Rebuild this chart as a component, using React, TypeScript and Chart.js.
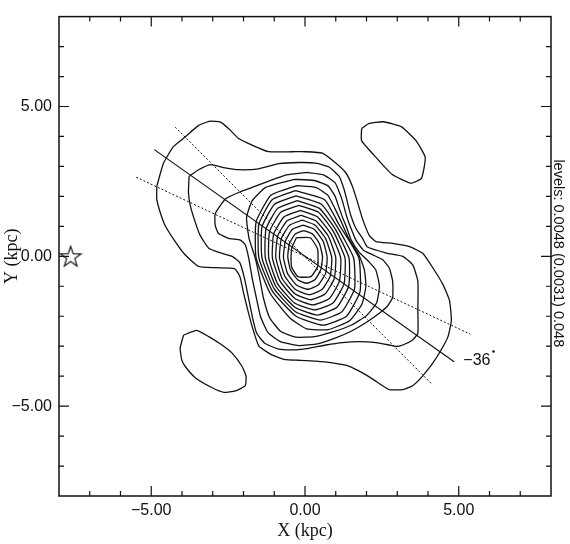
import React, { useEffect, useRef } from 'react';
import { Chart, registerables } from 'chart.js';

Chart.register(...registerables);

type P = [number, number];

// ---- axis setup ----
const AXIS_MIN = -8;
const AXIS_MAX = 8;
const TICK_LABELS = [-5, 0, 5];
const TICK_VALUES = [-7, -6, -5, -4, -3, -2, -1, 0, 1, 2, 3, 4, 5, 6, 7];
const X_TITLE = 'X (kpc)';
const Y_TITLE = 'Y (kpc)';
const LEVELS_TEXT = 'levels: 0.0048 (0.0031) 0.048';
const ANGLE_LABEL = '\u221236';
const ANGLE_LABEL_POS: P = [5.15, -3.48];

// ---- contours (outer to inner), kpc ----
const CONTOUR_1: P[] = [
  [-4.82, 2.34], [-4.6, 3.11], [-4.28, 3.66], [-3.9, 3.98], [-3.46, 4.37], [-3.08, 4.51], [-2.75, 4.48],
  [-2.48, 4.26], [-2.16, 3.93], [-1.72, 3.71], [-1.18, 3.49], [-0.41, 3.49], [0.02, 3.49], [0.56, 3.44],
  [1.0, 3.11], [1.33, 2.78], [1.54, 2.34], [1.71, 1.8], [1.87, 1.25], [2.09, 0.7], [2.31, 0.49], [2.85, 0.43],
  [3.4, 0.32], [3.83, 0.1], [4.16, -0.39], [4.48, -0.93], [4.7, -1.48], [4.76, -2.14], [4.65, -2.68],
  [4.43, -3.12], [4.16, -3.56], [3.83, -3.99], [3.5, -4.32], [3.18, -4.45], [2.74, -4.45], [2.52, -4.32],
  [2.2, -4.1], [1.87, -3.89], [1.44, -3.67], [0.89, -3.56], [0.35, -3.5], [-0.2, -3.47], [-0.63, -3.45],
  [-0.96, -3.34], [-1.18, -3.23], [-1.5, -3.0], [-1.67, -2.51], [-1.83, -1.92], [-1.99, -1.26], [-2.12, -0.67],
  [-2.29, -0.41], [-2.9, -0.38], [-3.46, -0.34], [-3.9, 0.05], [-4.22, 0.49], [-4.55, 1.03], [-4.71, 1.47],
  [-4.82, 1.91],
];
const CONTOUR_2: P[] = [
  [-3.77, 2.67], [-3.46, 2.89], [-3.08, 3.06], [-2.6, 2.95], [-2.16, 2.89], [-1.5, 2.92], [-0.85, 3.09],
  [-0.2, 3.13], [0.35, 3.11], [0.78, 2.98], [1.11, 2.67], [1.27, 2.24], [1.38, 1.8], [1.49, 1.36], [1.66, 0.92],
  [1.87, 0.6], [2.03, 0.31], [2.65, 0.11], [3.18, 0.0], [3.5, -0.28], [3.67, -0.83], [3.67, -1.81], [3.67, -2.57],
  [3.5, -2.79], [3.18, -2.96], [2.96, -3.01], [2.74, -2.96], [2.31, -2.88], [1.76, -2.85], [1.22, -2.88],
  [0.68, -2.96], [0.13, -3.07], [-0.3, -3.12], [-0.85, -3.1], [-1.31, -2.9], [-1.57, -2.57], [-1.7, -2.08],
  [-1.83, -1.43], [-1.96, -0.77], [-2.12, -0.21], [-2.37, 0.0], [-2.7, 0.1], [-3.13, 0.27], [-3.41, 0.7],
  [-3.57, 1.14], [-3.73, 1.69], [-3.79, 2.13],
];
const CONTOUR_3: P[] = [
  [0.06, 2.8], [0.6, 2.72], [0.98, 2.45], [1.15, 2.05], [1.23, 1.8], [1.35, 1.35], [1.47, 1.0], [1.65, 0.55],
  [1.9, 0.2], [2.2, 0.05], [2.52, -0.11], [2.74, -0.39], [2.85, -0.83], [2.85, -1.37], [2.69, -1.65],
  [2.47, -1.86], [2.0, -2.2], [1.5, -2.5], [1.0, -2.72], [0.4, -2.92], [-0.2, -2.98], [-0.8, -2.85],
  [-1.2, -2.55], [-1.45, -2.0], [-1.6, -1.3], [-1.72, -0.72], [-1.83, -0.06], [-1.94, 0.38], [-2.1, 0.54],
  [-2.48, 0.6], [-2.81, 0.76], [-2.92, 1.03], [-2.92, 1.42], [-2.59, 1.91], [-2.16, 2.13], [-1.61, 2.34],
  [-1.18, 2.51], [-0.6, 2.72],
];
const CONTOUR_4: P[] = [
  [-0.35, 2.57], [0.3, 2.53], [0.75, 2.35], [0.98, 2.0], [1.08, 1.7], [1.22, 1.3], [1.34, 1.0], [1.5, 0.55],
  [1.75, 0.15], [2.05, -0.15], [2.3, -0.45], [2.42, -1.0], [2.33, -1.55], [2.0, -1.98], [1.5, -2.3],
  [0.9, -2.52], [0.3, -2.68], [-0.3, -2.7], [-0.8, -2.5], [-1.15, -2.05], [-1.35, -1.4], [-1.48, -0.7],
  [-1.62, -0.05], [-1.82, 0.6], [-1.9, 1.3], [-1.72, 1.85], [-1.28, 2.3],
];
const CONTOUR_5: P[] = [
  [-0.27, 2.36], [0.35, 2.3], [0.74, 2.04], [0.97, 1.6], [1.18, 1.15], [1.42, 0.6], [1.75, 0.05], [1.93, -0.45],
  [1.98, -1.0], [1.85, -1.6], [1.45, -2.15], [0.75, -2.45], [0.05, -2.42], [-0.5, -2.05], [-1.12, -1.26],
  [-1.59, -0.05], [-1.59, 1.15], [-1.11, 2.04],
];
const CONTOUR_6: P[] = [
  [-0.31, 2.19], [0.64, 1.89], [1.1, 1.07], [1.75, -0.05], [1.79, -1.18], [1.35, -2.0], [0.59, -2.3],
  [-0.29, -2.0], [-1.05, -1.18], [-1.5, -0.05], [-1.5, 1.07], [-1.07, 1.89],
];
const CONTOUR_7: P[] = [
  [-0.29, 2.02], [0.53, 1.74], [1.05, 0.98], [1.58, -0.05], [1.61, -1.09], [1.2, -1.85], [0.5, -2.13],
  [-0.31, -1.85], [-1.0, -1.09], [-1.4, -0.05], [-1.4, 0.98], [-0.99, 1.74],
];
const CONTOUR_8: P[] = [
  [-0.25, 1.86], [0.47, 1.6], [0.99, 0.9], [1.43, -0.05], [1.42, -1.0], [1.04, -1.7], [0.4, -1.96],
  [-0.33, -1.7], [-0.95, -1.0], [-1.29, -0.05], [-1.27, 0.9], [-0.89, 1.6],
];
const CONTOUR_9: P[] = [
  [-0.2, 1.7], [0.44, 1.47], [0.92, 0.83], [1.3, -0.05], [1.27, -0.92], [0.91, -1.56], [0.32, -1.79],
  [-0.34, -1.56], [-0.89, -0.92], [-1.18, -0.05], [-1.15, 0.83], [-0.79, 1.47],
];
const CONTOUR_10: P[] = [
  [-0.15, 1.53], [0.4, 1.32], [0.85, 0.74], [1.16, -0.05], [1.12, -0.83], [0.79, -1.41], [0.26, -1.62],
  [-0.33, -1.41], [-0.81, -0.83], [-1.06, -0.05], [-1.02, 0.74], [-0.68, 1.32],
];
const CONTOUR_11: P[] = [
  [-0.13, 1.37], [0.36, 1.18], [0.76, 0.67], [1.0, -0.04], [0.95, -0.75], [0.65, -1.26], [0.19, -1.45],
  [-0.32, -1.26], [-0.74, -0.75], [-0.95, -0.04], [-0.89, 0.67], [-0.59, 1.18],
];
const CONTOUR_12: P[] = [
  [-0.09, 1.21], [0.33, 1.04], [0.67, 0.59], [0.87, -0.04], [0.82, -0.66], [0.55, -1.11], [0.14, -1.28],
  [-0.31, -1.11], [-0.66, -0.66], [-0.83, -0.04], [-0.77, 0.59], [-0.5, 1.04],
];
const CONTOUR_13: P[] = [
  [-0.06, 1.04], [0.3, 0.9], [0.59, 0.5], [0.72, -0.03], [0.67, -0.57], [0.43, -0.96], [0.09, -1.1],
  [-0.28, -0.96], [-0.57, -0.57], [-0.7, -0.03], [-0.64, 0.5], [-0.41, 0.9],
];
const CONTOUR_14: P[] = [
  [-0.04, 0.86], [0.25, 0.74], [0.47, 0.42], [0.57, -0.02], [0.51, -0.46], [0.32, -0.78], [0.05, -0.9],
  [-0.24, -0.78], [-0.47, -0.46], [-0.56, -0.02], [-0.51, 0.42], [-0.32, 0.74],
];
const CONTOUR_15: P[] = [
  [-0.28, 0.62], [0.17, 0.62], [0.41, 0.24], [0.41, -0.34], [0.19, -0.68], [-0.23, -0.68], [-0.44, -0.34],
  [-0.44, 0.24],
];
const ISLAND_NE: P[] = [
  [1.84, 4.26], [1.84, 3.86], [2.31, 3.3], [2.84, 2.73], [3.44, 2.44], [3.79, 2.61], [3.91, 3.3], [3.61, 3.86],
  [3.14, 4.32], [2.55, 4.49], [2.07, 4.43],
];
const ISLAND_SW: P[] = [
  [-3.95, -2.63], [-3.52, -2.47], [-3.13, -2.68], [-2.7, -2.96], [-2.37, -3.23], [-2.05, -3.67], [-1.92, -3.99],
  [-1.94, -4.32], [-2.26, -4.49], [-2.64, -4.54], [-3.03, -4.38], [-3.57, -4.05], [-3.9, -3.67], [-4.01, -3.45],
  [-4.06, -3.07],
];

const CONTOURS: P[][] = [
  CONTOUR_1, CONTOUR_2, CONTOUR_3, CONTOUR_4, CONTOUR_5, CONTOUR_6, CONTOUR_7, CONTOUR_8,
  CONTOUR_9, CONTOUR_10, CONTOUR_11, CONTOUR_12, CONTOUR_13, CONTOUR_14, CONTOUR_15, ISLAND_NE, ISLAND_SW,
];

// ---- position-angle lines ----
const BAR_LINE: P[] = [[-4.9, 3.56], [4.85, -3.52]];
const DOT_LINE_STEEP: P[] = [[-4.22, 4.31], [4.14, -4.28]];
const DOT_LINE_SHALLOW: P[] = [[-5.49, 2.64], [5.38, -2.6]];
const SUN_POSITION: P[] = [[-7.62, 0.0]];

const SANS = '"Liberation Sans", Arial, Helvetica, sans-serif';
const SERIF = '"Liberation Serif", "Times New Roman", serif';

const toXY = (arr: P[]) => arr.map(([x, y]) => ({ x, y }));
const closed = (arr: P[]) => toXY([...arr, arr[0]]);

const fmt = (v: number) => (v < 0 ? '\u2212' : '') + Math.abs(v).toFixed(2);

function makeStar(): HTMLCanvasElement {
  const c = document.createElement('canvas');
  const s = 26;
  c.width = s;
  c.height = s;
  const g = c.getContext('2d')!;
  const R = 10.8;
  const r = 4.3;
  const cx = s / 2;
  const cy = s / 2 + 1;
  g.beginPath();
  for (let i = 0; i < 10; i++) {
    const ang = -Math.PI / 2 + (i * Math.PI) / 5;
    const rad = i % 2 === 0 ? R : r;
    const px = cx + rad * Math.cos(ang);
    const py = cy + rad * Math.sin(ang);
    if (i === 0) g.moveTo(px, py);
    else g.lineTo(px, py);
  }
  g.closePath();
  g.lineWidth = 1.2;
  g.strokeStyle = '#111';
  g.stroke();
  return c;
}

const framePlugin = {
  id: 'frameTicks',
  afterDatasetsDraw(chart: any) {
    const { ctx, chartArea: a, scales } = chart;
    const xs = scales.x;
    const ys = scales.y;
    ctx.save();
    ctx.strokeStyle = '#111';
    ctx.lineWidth = 1.5;
    ctx.strokeRect(a.left, a.top, a.right - a.left, a.bottom - a.top);
    ctx.lineWidth = 1.2;
    ctx.beginPath();
    for (const v of TICK_VALUES) {
      const len = TICK_LABELS.includes(v) ? 10 : 5;
      const px = xs.getPixelForValue(v);
      const py = ys.getPixelForValue(v);
      ctx.moveTo(px, a.bottom);
      ctx.lineTo(px, a.bottom - len);
      ctx.moveTo(px, a.top);
      ctx.lineTo(px, a.top + len);
      ctx.moveTo(a.left, py);
      ctx.lineTo(a.left + len, py);
      ctx.moveTo(a.right, py);
      ctx.lineTo(a.right - len, py);
    }
    ctx.stroke();

    // angle label
    const lx = xs.getPixelForValue(ANGLE_LABEL_POS[0]);
    const ly = ys.getPixelForValue(ANGLE_LABEL_POS[1]);
    ctx.fillStyle = '#111';
    ctx.font = `16px ${SANS}`;
    ctx.textAlign = 'left';
    ctx.textBaseline = 'middle';
    ctx.fillText(ANGLE_LABEL, lx, ly);
    const w = ctx.measureText(ANGLE_LABEL).width;
    ctx.beginPath();
    ctx.arc(lx + w + 3, ly - 9, 1.3, 0, Math.PI * 2);
    ctx.fill();

    // levels text, rotated on the right
    ctx.translate(a.right + 7, (a.top + a.bottom) / 2 - 3);
    ctx.rotate(Math.PI / 2);
    ctx.font = `14.5px ${SANS}`;
    ctx.textAlign = 'center';
    ctx.textBaseline = 'middle';
    ctx.fillText(LEVELS_TEXT, 0, 0);
    ctx.restore();
  },
};

export default function App() {
  const ref = useRef<HTMLCanvasElement | null>(null);

  useEffect(() => {
    if (!ref.current) return;
    const star = makeStar();
    const contourSets = CONTOURS.map((c) => ({
      data: closed(c),
      showLine: true,
      pointRadius: 0,
      borderColor: '#111',
      borderWidth: 1.3,
      tension: 0.15,
      fill: false,
    }));
    const chart = new Chart(ref.current, {
      type: 'scatter',
      data: {
        datasets: [
          ...contourSets,
          {
            data: toXY(BAR_LINE),
            showLine: true,
            pointRadius: 0,
            borderColor: '#111',
            borderWidth: 1.2,
          },
          {
            data: toXY(DOT_LINE_STEEP),
            showLine: true,
            pointRadius: 0,
            borderColor: '#111',
            borderWidth: 1,
            borderDash: [2, 2],
          },
          {
            data: toXY(DOT_LINE_SHALLOW),
            showLine: true,
            pointRadius: 0,
            borderColor: '#111',
            borderWidth: 1,
            borderDash: [2, 2],
          },
          {
            data: toXY(SUN_POSITION),
            showLine: false,
            pointStyle: star as any,
            pointRadius: 11,
            clip: false as any,
          },
        ] as any,
      },
      options: {
        animation: false,
        responsive: false,
        devicePixelRatio: 1,
        events: [],
        layout: { padding: { top: 8, right: 19, left: 0, bottom: 0 } },
        plugins: {
          legend: { display: false },
          tooltip: { enabled: false },
        },
        scales: {
          x: {
            type: 'linear',
            min: AXIS_MIN,
            max: AXIS_MAX,
            grid: { display: false, drawTicks: false, tickLength: 0 },
            border: { display: false },
            ticks: {
              stepSize: 1,
              autoSkip: false,
              maxRotation: 0,
              padding: 5,
              color: '#111',
              font: { family: SANS, size: 16 },
              callback: (v: any) => (TICK_LABELS.includes(Number(v)) ? fmt(Number(v)) : ''),
            },
            title: {
              display: true,
              text: X_TITLE,
              color: '#111',
              font: { family: SERIF, size: 18 },
              padding: { top: 0, bottom: 2 },
            },
            afterFit: (s: any) => {
              s.height = 48;
            },
          },
          y: {
            type: 'linear',
            min: AXIS_MIN,
            max: AXIS_MAX,
            grid: { display: false, drawTicks: false, tickLength: 0 },
            border: { display: false },
            ticks: {
              stepSize: 1,
              autoSkip: false,
              padding: 7,
              color: '#111',
              font: { family: SANS, size: 16 },
              callback: (v: any) => (TICK_LABELS.includes(Number(v)) ? fmt(Number(v)) : ''),
            },
            title: {
              display: true,
              text: Y_TITLE,
              color: '#111',
              font: { family: SERIF, size: 18 },
              padding: { top: 1, bottom: 0 },
            },
            afterFit: (s: any) => {
              s.width = 59;
            },
          },
        },
      } as any,
      plugins: [framePlugin],
    });
    return () => chart.destroy();
  }, []);

  return (
    <div style={{ position: 'absolute', left: 0, top: 0, width: 570, height: 544, background: '#fff' }}>
      <canvas ref={ref} width={570} height={544} style={{ display: 'block' }} />
    </div>
  );
}
